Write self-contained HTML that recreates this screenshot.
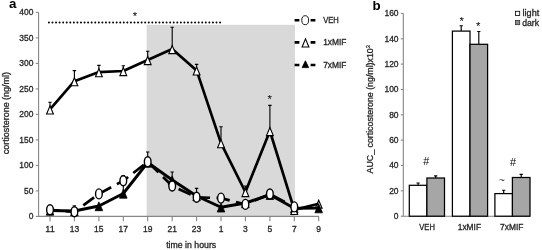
<!DOCTYPE html><html><head><meta charset="utf-8"><title>figure</title><style>html,body{margin:0;padding:0;background:#fff}body{width:542px;height:250px;overflow:hidden}</style></head><body>
<svg width="542" height="250" viewBox="0 0 542 250" style="display:block;will-change:transform;font-family:'Liberation Sans','DejaVu Sans',sans-serif">
<rect width="542" height="250" fill="#fff"/>
<rect x="146.6" y="24.8" width="148.4" height="191.4" fill="#d9d9d9"/>
<path d="M38.6 12.4V216.4H319" fill="none" stroke="#868686" stroke-width="1.1"/>
<path d="M35.8 216.4H38.6" stroke="#868686" stroke-width="1.1"/>
<text x="28.68" y="219.30" font-size="8.4" textLength="4.72" lengthAdjust="spacingAndGlyphs" fill="#262626" stroke="#262626" stroke-width="0.3">0</text>
<path d="M35.8 190.9H38.6" stroke="#868686" stroke-width="1.1"/>
<text x="23.97" y="193.80" font-size="8.4" textLength="9.43" lengthAdjust="spacingAndGlyphs" fill="#262626" stroke="#262626" stroke-width="0.3">50</text>
<path d="M35.8 165.4H38.6" stroke="#868686" stroke-width="1.1"/>
<text x="19.25" y="168.30" font-size="8.4" textLength="14.15" lengthAdjust="spacingAndGlyphs" fill="#262626" stroke="#262626" stroke-width="0.3">100</text>
<path d="M35.8 139.9H38.6" stroke="#868686" stroke-width="1.1"/>
<text x="19.25" y="142.80" font-size="8.4" textLength="14.15" lengthAdjust="spacingAndGlyphs" fill="#262626" stroke="#262626" stroke-width="0.3">150</text>
<path d="M35.8 114.4H38.6" stroke="#868686" stroke-width="1.1"/>
<text x="19.25" y="117.30" font-size="8.4" textLength="14.15" lengthAdjust="spacingAndGlyphs" fill="#262626" stroke="#262626" stroke-width="0.3">200</text>
<path d="M35.8 88.9H38.6" stroke="#868686" stroke-width="1.1"/>
<text x="19.25" y="91.80" font-size="8.4" textLength="14.15" lengthAdjust="spacingAndGlyphs" fill="#262626" stroke="#262626" stroke-width="0.3">250</text>
<path d="M35.8 63.4H38.6" stroke="#868686" stroke-width="1.1"/>
<text x="19.25" y="66.30" font-size="8.4" textLength="14.15" lengthAdjust="spacingAndGlyphs" fill="#262626" stroke="#262626" stroke-width="0.3">300</text>
<path d="M35.8 37.9H38.6" stroke="#868686" stroke-width="1.1"/>
<text x="19.25" y="40.80" font-size="8.4" textLength="14.15" lengthAdjust="spacingAndGlyphs" fill="#262626" stroke="#262626" stroke-width="0.3">350</text>
<path d="M35.8 12.4H38.6" stroke="#868686" stroke-width="1.1"/>
<text x="19.25" y="15.30" font-size="8.4" textLength="14.15" lengthAdjust="spacingAndGlyphs" fill="#262626" stroke="#262626" stroke-width="0.3">400</text>
<path d="M50.0 216.4V221.3" stroke="#868686" stroke-width="1.1"/>
<text x="45.28" y="232.30" font-size="8.4" textLength="9.43" lengthAdjust="spacingAndGlyphs" fill="#262626" stroke="#262626" stroke-width="0.3">11</text>
<path d="M74.4 216.4V221.3" stroke="#868686" stroke-width="1.1"/>
<text x="69.71" y="232.30" font-size="8.4" textLength="9.43" lengthAdjust="spacingAndGlyphs" fill="#262626" stroke="#262626" stroke-width="0.3">13</text>
<path d="M98.9 216.4V221.3" stroke="#868686" stroke-width="1.1"/>
<text x="94.14" y="232.30" font-size="8.4" textLength="9.43" lengthAdjust="spacingAndGlyphs" fill="#262626" stroke="#262626" stroke-width="0.3">15</text>
<path d="M123.3 216.4V221.3" stroke="#868686" stroke-width="1.1"/>
<text x="118.57" y="232.30" font-size="8.4" textLength="9.43" lengthAdjust="spacingAndGlyphs" fill="#262626" stroke="#262626" stroke-width="0.3">17</text>
<path d="M147.7 216.4V221.3" stroke="#868686" stroke-width="1.1"/>
<text x="143.00" y="232.30" font-size="8.4" textLength="9.43" lengthAdjust="spacingAndGlyphs" fill="#262626" stroke="#262626" stroke-width="0.3">19</text>
<path d="M172.2 216.4V221.3" stroke="#868686" stroke-width="1.1"/>
<text x="167.43" y="232.30" font-size="8.4" textLength="9.43" lengthAdjust="spacingAndGlyphs" fill="#262626" stroke="#262626" stroke-width="0.3">21</text>
<path d="M196.6 216.4V221.3" stroke="#868686" stroke-width="1.1"/>
<text x="191.86" y="232.30" font-size="8.4" textLength="9.43" lengthAdjust="spacingAndGlyphs" fill="#262626" stroke="#262626" stroke-width="0.3">23</text>
<path d="M221.0 216.4V221.3" stroke="#868686" stroke-width="1.1"/>
<text x="218.65" y="232.30" font-size="8.4" textLength="4.72" lengthAdjust="spacingAndGlyphs" fill="#262626" stroke="#262626" stroke-width="0.3">1</text>
<path d="M245.4 216.4V221.3" stroke="#868686" stroke-width="1.1"/>
<text x="243.08" y="232.30" font-size="8.4" textLength="4.72" lengthAdjust="spacingAndGlyphs" fill="#262626" stroke="#262626" stroke-width="0.3">3</text>
<path d="M269.9 216.4V221.3" stroke="#868686" stroke-width="1.1"/>
<text x="267.51" y="232.30" font-size="8.4" textLength="4.72" lengthAdjust="spacingAndGlyphs" fill="#262626" stroke="#262626" stroke-width="0.3">5</text>
<path d="M294.3 216.4V221.3" stroke="#868686" stroke-width="1.1"/>
<text x="291.94" y="232.30" font-size="8.4" textLength="4.72" lengthAdjust="spacingAndGlyphs" fill="#262626" stroke="#262626" stroke-width="0.3">7</text>
<path d="M318.7 216.4V221.3" stroke="#868686" stroke-width="1.1"/>
<text x="316.37" y="232.30" font-size="8.4" textLength="4.72" lengthAdjust="spacingAndGlyphs" fill="#262626" stroke="#262626" stroke-width="0.3">9</text>
<text x="166.16" y="247.60" font-size="8.4" textLength="50.07" lengthAdjust="spacingAndGlyphs" fill="#262626" stroke="#262626" stroke-width="0.3">time in hours</text>
<g transform="translate(8.6,154.3) rotate(-90)">
<text x="0.00" y="0.00" font-size="8.4" textLength="82.38" lengthAdjust="spacingAndGlyphs" fill="#262626" stroke="#262626" stroke-width="0.3">cortiosterone (ng/ml)</text>
</g>
<text x="8.9" y="8" font-size="13.3" font-weight="bold" fill="#000">a</text>
<path d="M48.9 22.6H220.2" stroke="#000" stroke-width="2" stroke-linecap="round" stroke-dasharray="0 3.566"/>
<text x="135.00" y="19.74" font-size="11.4" text-anchor="middle" fill="#000">*</text>
<text x="269.80" y="102.84" font-size="11.4" text-anchor="middle" fill="#000">*</text>
<path d="M123.3 193.5V175.6M121.6 175.6H125.0" stroke="#000" stroke-width="1.1" fill="none"/>
<path d="M172.2 180.0V172.0M170.5 172.0H173.8" stroke="#000" stroke-width="1.1" fill="none"/>
<path d="M50.0 210.5 L74.4 211.0 L98.9 206.0 L123.3 193.5 L147.7 162.5 L172.2 180.0 L196.6 196.0 L221.0 207.3 L245.4 203.0 L269.9 194.8 L294.3 208.2 L318.7 208.1" fill="none" stroke="#000" stroke-width="2.9" stroke-linejoin="round"/>
<path d="M50.0 206.4L53.8 215.2L46.2 215.2Z" fill="#000" stroke="#000" stroke-width="0.8"/>
<path d="M74.4 206.9L78.2 215.7L70.6 215.7Z" fill="#000" stroke="#000" stroke-width="0.8"/>
<path d="M98.9 201.9L102.7 210.7L95.1 210.7Z" fill="#000" stroke="#000" stroke-width="0.8"/>
<path d="M123.3 189.4L127.1 198.2L119.5 198.2Z" fill="#000" stroke="#000" stroke-width="0.8"/>
<path d="M147.7 158.4L151.5 167.2L143.9 167.2Z" fill="#000" stroke="#000" stroke-width="0.8"/>
<path d="M172.2 175.9L176.0 184.7L168.3 184.7Z" fill="#000" stroke="#000" stroke-width="0.8"/>
<path d="M196.6 191.9L200.4 200.7L192.8 200.7Z" fill="#000" stroke="#000" stroke-width="0.8"/>
<path d="M221.0 203.2L224.8 212.0L217.2 212.0Z" fill="#000" stroke="#000" stroke-width="0.8"/>
<path d="M245.4 198.9L249.2 207.7L241.6 207.7Z" fill="#000" stroke="#000" stroke-width="0.8"/>
<path d="M269.9 190.7L273.7 199.5L266.1 199.5Z" fill="#000" stroke="#000" stroke-width="0.8"/>
<path d="M294.3 204.1L298.1 212.9L290.5 212.9Z" fill="#000" stroke="#000" stroke-width="0.8"/>
<path d="M318.7 204.0L322.5 212.8L314.9 212.8Z" fill="#000" stroke="#000" stroke-width="0.8"/>
<path d="M50.0 109.4V102.3M48.3 102.3H51.7" stroke="#000" stroke-width="1.1" fill="none"/>
<path d="M74.4 81.2V70.6M72.7 70.6H76.1" stroke="#000" stroke-width="1.1" fill="none"/>
<path d="M98.9 72.1V65.4M97.2 65.4H100.6" stroke="#000" stroke-width="1.1" fill="none"/>
<path d="M123.3 71.0V65.8M121.6 65.8H125.0" stroke="#000" stroke-width="1.1" fill="none"/>
<path d="M147.7 60.0V51.2M146.0 51.2H149.4" stroke="#000" stroke-width="1.1" fill="none"/>
<path d="M172.2 49.0V27.2M170.5 27.2H173.8" stroke="#000" stroke-width="1.1" fill="none"/>
<path d="M196.6 70.4V64.4M194.9 64.4H198.3" stroke="#000" stroke-width="1.1" fill="none"/>
<path d="M221.0 143.1V126.8M219.3 126.8H222.7" stroke="#000" stroke-width="1.1" fill="none"/>
<path d="M245.4 192.0V186.0M243.7 186.0H247.1" stroke="#000" stroke-width="1.1" fill="none"/>
<path d="M269.9 131.0V105.4M268.2 105.4H271.6" stroke="#000" stroke-width="1.1" fill="none"/>
<path d="M50.0 109.4 L74.4 81.2 L98.9 72.1 L123.3 71.0 L147.7 60.0 L172.2 49.0 L196.6 70.4 L221.0 143.1 L245.4 192.0 L269.9 131.0 L294.3 209.9 L318.7 203.7" fill="none" stroke="#000" stroke-width="2.7" stroke-linejoin="round"/>
<path d="M50.0 105.9L53.4 114.0L46.6 114.0Z" fill="#fff" stroke="#000" stroke-width="1.1"/>
<path d="M74.4 77.7L77.8 85.8L71.0 85.8Z" fill="#fff" stroke="#000" stroke-width="1.1"/>
<path d="M98.9 68.6L102.3 76.7L95.5 76.7Z" fill="#fff" stroke="#000" stroke-width="1.1"/>
<path d="M123.3 67.5L126.7 75.6L119.9 75.6Z" fill="#fff" stroke="#000" stroke-width="1.1"/>
<path d="M147.7 56.5L151.1 64.6L144.3 64.6Z" fill="#fff" stroke="#000" stroke-width="1.1"/>
<path d="M172.2 45.5L175.6 53.6L168.8 53.6Z" fill="#fff" stroke="#000" stroke-width="1.1"/>
<path d="M196.6 66.9L200.0 75.0L193.2 75.0Z" fill="#fff" stroke="#000" stroke-width="1.1"/>
<path d="M221.0 139.6L224.4 147.7L217.6 147.7Z" fill="#fff" stroke="#000" stroke-width="1.1"/>
<path d="M245.4 188.5L248.8 196.6L242.0 196.6Z" fill="#fff" stroke="#000" stroke-width="1.1"/>
<path d="M269.9 127.5L273.3 135.6L266.5 135.6Z" fill="#fff" stroke="#000" stroke-width="1.1"/>
<path d="M294.3 206.4L297.7 214.5L290.9 214.5Z" fill="#fff" stroke="#000" stroke-width="1.1"/>
<path d="M318.7 200.2L322.1 208.3L315.3 208.3Z" fill="none" stroke="#000" stroke-width="1.1"/>
<path d="M74.4 211.8V205.7M72.7 205.7H76.1" stroke="#000" stroke-width="1.1" fill="none"/>
<path d="M147.7 161.8V152.0M146.0 152.0H149.4" stroke="#000" stroke-width="1.1" fill="none"/>
<path d="M196.6 197.3V188.4M194.9 188.4H198.3" stroke="#000" stroke-width="1.1" fill="none"/>
<path d="M50.0 209.8 L74.4 211.8 L98.9 193.9 L123.3 180.7 L147.7 161.8 L172.2 186.0 L196.6 197.3 L221.0 198.1 L245.4 204.4 L269.9 194.0 L294.3 206.9" fill="none" stroke="#000" stroke-width="2.7" stroke-linejoin="round" stroke-dasharray="13.4 6.5" stroke-dashoffset="4.3"/>
<ellipse cx="50.0" cy="209.8" rx="3.35" ry="5.0" fill="#fff" stroke="#000" stroke-width="1.4"/>
<ellipse cx="74.4" cy="211.8" rx="3.35" ry="5.0" fill="#fff" stroke="#000" stroke-width="1.4"/>
<ellipse cx="98.9" cy="193.9" rx="3.35" ry="5.0" fill="#fff" stroke="#000" stroke-width="1.4"/>
<ellipse cx="123.3" cy="180.7" rx="3.35" ry="5.0" fill="#fff" stroke="#000" stroke-width="1.4"/>
<ellipse cx="147.7" cy="161.8" rx="3.35" ry="5.0" fill="#fff" stroke="#000" stroke-width="1.4"/>
<ellipse cx="172.2" cy="186.0" rx="3.35" ry="5.0" fill="#fff" stroke="#000" stroke-width="1.4"/>
<ellipse cx="196.6" cy="197.3" rx="3.35" ry="5.0" fill="#fff" stroke="#000" stroke-width="1.4"/>
<ellipse cx="221.0" cy="198.1" rx="3.35" ry="5.0" fill="#fff" stroke="#000" stroke-width="1.4"/>
<ellipse cx="245.4" cy="204.4" rx="3.35" ry="5.0" fill="#fff" stroke="#000" stroke-width="1.4"/>
<ellipse cx="269.9" cy="194.0" rx="3.35" ry="5.0" fill="#fff" stroke="#000" stroke-width="1.4"/>
<ellipse cx="294.3" cy="206.9" rx="3.35" ry="5.0" fill="#fff" stroke="#000" stroke-width="1.4"/>
<path d="M294.6 20.2H299.4M310.6 20.2H315.4" stroke="#000" stroke-width="2.6"/>
<ellipse cx="305.2" cy="20.2" rx="3.4" ry="4.5" fill="#fff" stroke="#000" stroke-width="0.9"/>
<text x="323.20" y="23.10" font-size="8.4" textLength="15.61" lengthAdjust="spacingAndGlyphs" fill="#262626" stroke="#262626" stroke-width="0.3">VEH</text>
<path d="M294.6 42.4H299.4M310.6 42.4H315.4" stroke="#000" stroke-width="2.6"/>
<path d="M305.5 38.9L308.9 47.0L302.1 47.0Z" fill="#fff" stroke="#000" stroke-width="1.1"/>
<text x="323.20" y="45.30" font-size="8.4" textLength="23.31" lengthAdjust="spacingAndGlyphs" fill="#262626" stroke="#262626" stroke-width="0.3">1xMIF</text>
<path d="M294.6 65.0H299.4M310.6 65.0H315.4" stroke="#000" stroke-width="2.6"/>
<path d="M305.4 60.8L308.7 67.6L302.1 67.6Z" fill="#000" stroke="#000" stroke-width="0.8"/>
<text x="323.20" y="67.90" font-size="8.4" textLength="23.31" lengthAdjust="spacingAndGlyphs" fill="#262626" stroke="#262626" stroke-width="0.3">7xMIF</text>
<text x="372.6" y="9.8" font-size="13.3" font-weight="bold" fill="#000">b</text>
<path d="M403.3 13.4V216.2H529.6" fill="none" stroke="#868686" stroke-width="1.1"/>
<path d="M400.8 216.2H403.3" stroke="#868686" stroke-width="1.1"/>
<text x="393.88" y="219.10" font-size="8.4" textLength="4.72" lengthAdjust="spacingAndGlyphs" fill="#262626" stroke="#262626" stroke-width="0.3">0</text>
<path d="M400.8 190.8H403.3" stroke="#868686" stroke-width="1.1"/>
<text x="389.17" y="193.75" font-size="8.4" textLength="9.43" lengthAdjust="spacingAndGlyphs" fill="#262626" stroke="#262626" stroke-width="0.3">20</text>
<path d="M400.8 165.5H403.3" stroke="#868686" stroke-width="1.1"/>
<text x="389.17" y="168.40" font-size="8.4" textLength="9.43" lengthAdjust="spacingAndGlyphs" fill="#262626" stroke="#262626" stroke-width="0.3">40</text>
<path d="M400.8 140.1H403.3" stroke="#868686" stroke-width="1.1"/>
<text x="389.17" y="143.05" font-size="8.4" textLength="9.43" lengthAdjust="spacingAndGlyphs" fill="#262626" stroke="#262626" stroke-width="0.3">60</text>
<path d="M400.8 114.8H403.3" stroke="#868686" stroke-width="1.1"/>
<text x="389.17" y="117.70" font-size="8.4" textLength="9.43" lengthAdjust="spacingAndGlyphs" fill="#262626" stroke="#262626" stroke-width="0.3">80</text>
<path d="M400.8 89.5H403.3" stroke="#868686" stroke-width="1.1"/>
<text x="384.45" y="92.35" font-size="8.4" textLength="14.15" lengthAdjust="spacingAndGlyphs" fill="#262626" stroke="#262626" stroke-width="0.3">100</text>
<path d="M400.8 64.1H403.3" stroke="#868686" stroke-width="1.1"/>
<text x="384.45" y="67.00" font-size="8.4" textLength="14.15" lengthAdjust="spacingAndGlyphs" fill="#262626" stroke="#262626" stroke-width="0.3">120</text>
<path d="M400.8 38.8H403.3" stroke="#868686" stroke-width="1.1"/>
<text x="384.45" y="41.65" font-size="8.4" textLength="14.15" lengthAdjust="spacingAndGlyphs" fill="#262626" stroke="#262626" stroke-width="0.3">140</text>
<path d="M400.8 13.4H403.3" stroke="#868686" stroke-width="1.1"/>
<text x="384.45" y="16.30" font-size="8.4" textLength="14.15" lengthAdjust="spacingAndGlyphs" fill="#262626" stroke="#262626" stroke-width="0.3">160</text>
<g transform="translate(373.2,173.4) rotate(-90)">
<text x="0" y="0" font-size="8.4" textLength="125.13" lengthAdjust="spacingAndGlyphs" fill="#262626" stroke="#262626" stroke-width="0.3">AUC_ corticosterone (ng/ml)x10</text>
<text x="125.23" y="-3.7" font-size="5.6" fill="#262626" stroke="#262626" stroke-width="0.2">3</text>
</g>
<rect x="409.3" y="185.3" width="17.6" height="30.9" fill="#fff" stroke="#000" stroke-width="1.25"/>
<path d="M418.1 185.3V183.0M416.5 183.0H419.7" stroke="#000" stroke-width="1.15" fill="none"/>
<rect x="426.9" y="178.0" width="17.6" height="38.2" fill="#a6a6a6" stroke="#000" stroke-width="1.25"/>
<path d="M435.7 178.0V175.9M434.1 175.9H437.3" stroke="#000" stroke-width="1.15" fill="none"/>
<rect x="452.4" y="31.1" width="17.6" height="185.1" fill="#fff" stroke="#000" stroke-width="1.25"/>
<path d="M461.2 31.1V25.7M459.6 25.7H462.8" stroke="#000" stroke-width="1.15" fill="none"/>
<rect x="470.0" y="44.3" width="17.6" height="171.9" fill="#a6a6a6" stroke="#000" stroke-width="1.25"/>
<path d="M478.8 44.3V31.5M477.2 31.5H480.4" stroke="#000" stroke-width="1.15" fill="none"/>
<rect x="494.9" y="193.6" width="17.6" height="22.6" fill="#fff" stroke="#000" stroke-width="1.25"/>
<path d="M503.7 193.6V190.2M502.1 190.2H505.3" stroke="#000" stroke-width="1.15" fill="none"/>
<rect x="512.4" y="177.5" width="17.6" height="38.7" fill="#a6a6a6" stroke="#000" stroke-width="1.25"/>
<path d="M521.2 177.5V174.4M519.6 174.4H522.8" stroke="#000" stroke-width="1.15" fill="none"/>
<text x="419.30" y="230.00" font-size="8.4" textLength="15.61" lengthAdjust="spacingAndGlyphs" fill="#262626" stroke="#262626" stroke-width="0.3">VEH</text>
<text x="457.75" y="230.00" font-size="8.4" textLength="23.31" lengthAdjust="spacingAndGlyphs" fill="#262626" stroke="#262626" stroke-width="0.3">1xMIF</text>
<text x="500.05" y="230.00" font-size="8.4" textLength="23.31" lengthAdjust="spacingAndGlyphs" fill="#262626" stroke="#262626" stroke-width="0.3">7xMIF</text>
<text x="461.60" y="25.04" font-size="11.4" text-anchor="middle" fill="#000">*</text>
<text x="478.10" y="30.14" font-size="11.4" text-anchor="middle" fill="#000">*</text>
<text x="426.20" y="165.39" font-size="10.8" text-anchor="middle" fill="#000">#</text>
<text x="513.10" y="165.89" font-size="10.8" text-anchor="middle" fill="#000">#</text>
<text x="501.90" y="183.72" font-size="10" text-anchor="middle" fill="#333">~</text>
<rect x="515.5" y="11.3" width="4.2" height="4.2" fill="#fff" stroke="#000" stroke-width="0.8"/>
<rect x="515.5" y="20.5" width="4.2" height="4.2" fill="#8c8c8c" stroke="#333" stroke-width="0.8"/>
<text x="522.60" y="15.80" font-size="8.4" textLength="16.64" lengthAdjust="spacingAndGlyphs" fill="#262626" stroke="#262626" stroke-width="0.3">light</text>
<text x="522.20" y="25.80" font-size="8.4" textLength="16.81" lengthAdjust="spacingAndGlyphs" fill="#262626" stroke="#262626" stroke-width="0.3">dark</text>
</svg>
</body></html>
